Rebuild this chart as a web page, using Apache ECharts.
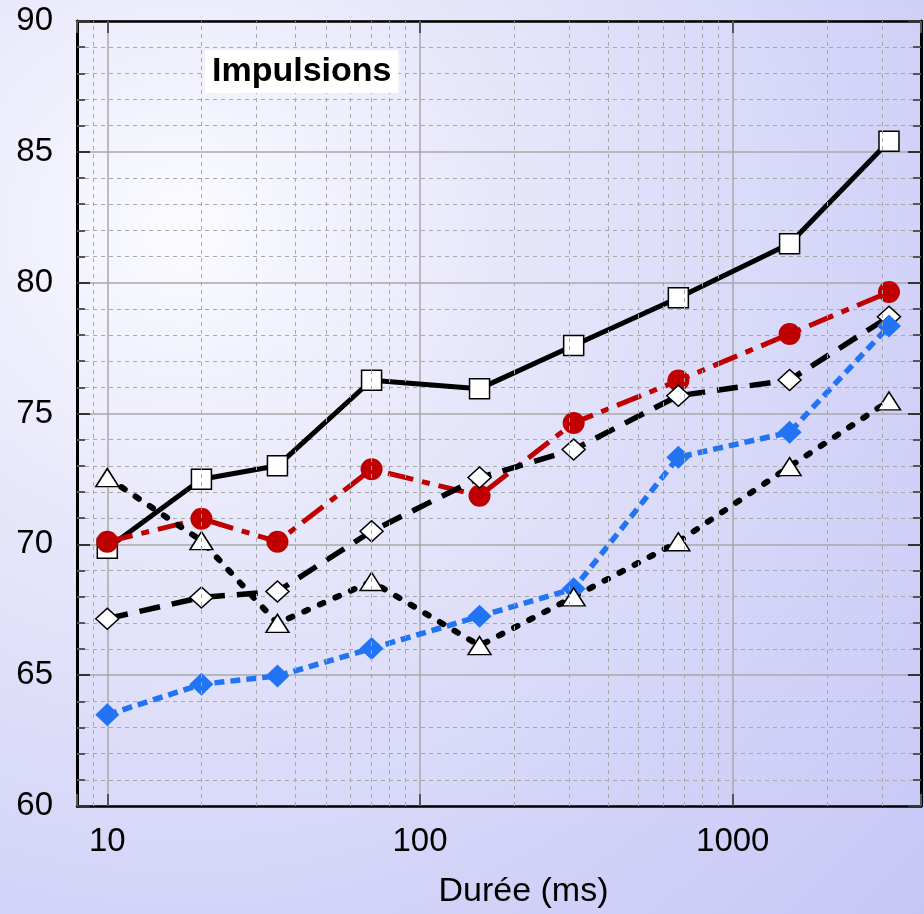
<!DOCTYPE html>
<html>
<head>
<meta charset="utf-8">
<script src="https://cdn.jsdelivr.net/npm/echarts@6/dist/echarts.min.js"></script>
<style>
html, body { margin: 0; padding: 0; width: 100%; height: 100%; overflow: hidden; }
#chart {
  position: absolute; left: 0; top: 0;
  width: 924px; height: 914px;
  background: radial-gradient(circle at 20% 25%, #fbfbff 0px, #e8e8fb 300px, #d3d3f8 700px, #c7c7f6 1000px);
}
</style>
</head>
<body>
<div id="chart"></div>
<script>
// ---- data ----
const xValues = [10, 20, 35, 70, 155, 310, 670, 1520, 3160];
const squaresData   = [69.85, 72.49, 73.0, 76.27, 75.95, 77.6, 79.42, 81.49, 85.4];
const circlesData   = [70.1, 70.98, 70.1, 72.87, 71.86, 74.64, 76.26, 78.04, 79.64];
const openDiamonds  = [67.16, 67.97, 68.2, 70.5, 72.55, 73.62, 75.68, 76.28, 78.7];
const blueDiamonds  = [63.49, 64.65, 64.97, 66.02, 67.25, 68.3, 73.33, 74.28, 78.34];
const trianglesData = [72.55, 70.14, 66.98, 68.58, 66.13, 67.99, 70.1, 72.97, 75.48];
const xTickLabels = [10, 100, 1000];
const xMinorGrid = [9, 20, 30, 40, 50, 60, 70, 80, 90, 200, 300, 400, 500, 600, 700, 800, 900, 2000, 3000];
const yTickLabels = [60, 65, 70, 75, 80, 85, 90];
const chartTitle = 'Impulsions';
const xAxisName = 'Durée (ms)';

const FONT = '"Liberation Sans", Arial, sans-serif';
const pts = arr => xValues.map((x, i) => [x, arr[i]]);

const chart = echarts.init(document.getElementById('chart'), null, { renderer: 'canvas', width: 924, height: 914 });

const baseSeries = (name, data, lineStyle, symbol, symbolSize, itemStyle) => ({
  name, type: 'line', data: pts(data), xAxisIndex: 0, yAxisIndex: 0,
  showSymbol: true, symbol, symbolSize, lineStyle, itemStyle,
  emphasis: { disabled: true }, z: 3
});

chart.setOption({
  animation: false,
  backgroundColor: 'transparent',
  textStyle: { fontFamily: FONT },
  title: {
    text: chartTitle, left: 205, top: 50,
    backgroundColor: '#ffffff', padding: [5, 7, 4, 7],
    textStyle: { fontFamily: FONT, fontWeight: 'bold', fontSize: 34, color: '#000' }
  },
  grid: { left: 77, right: 1, top: 21, bottom: 103, containLabel: false },
  xAxis: [
    {
      type: 'log', logBase: 10, min: 8, max: 4000, position: 'bottom',
      name: xAxisName, nameLocation: 'middle', nameGap: 69,
      nameTextStyle: { fontFamily: FONT, fontSize: 34, color: '#000', padding: [0, 0, 0, 49] },
      axisLine: { show: true, lineStyle: { color: '#000', width: 2.5 } },
      axisTick: { show: true, inside: true, length: 12, lineStyle: { color: '#555', width: 2 } },
      axisLabel: {
        fontFamily: FONT, fontSize: 33, color: '#000', margin: 19,
        showMinLabel: true, showMaxLabel: true,
        formatter: v => xTickLabels.includes(Math.round(v)) ? String(Math.round(v)) : ''
      },
      splitLine: { show: true, lineStyle: { color: '#a8a8a8', width: 1.5 } }
    },
    {
      type: 'log', logBase: 10, min: 8, max: 4000, position: 'top',
      axisLine: { show: true, lineStyle: { color: '#000', width: 2.5 } },
      axisTick: { show: true, inside: true, length: 12, lineStyle: { color: '#555', width: 2 } },
      axisLabel: { show: false },
      splitLine: { show: false }
    }
  ],
  yAxis: [
    {
      type: 'value', min: 60, max: 90, interval: 5, position: 'left',
      axisLine: { show: true, lineStyle: { color: '#000', width: 3 } },
      axisTick: { show: true, inside: true, length: 13, lineStyle: { color: '#333', width: 2 } },
      minorTick: { show: true, splitNumber: 5, length: 8, lineStyle: { color: '#555', width: 2 } },
      axisLabel: {
        fontFamily: FONT, fontSize: 33, color: '#000', margin: 24,
        formatter: v => yTickLabels.includes(v) ? String(v) : ''
      },
      splitLine: { show: true, lineStyle: { color: '#a8a8a8', width: 1.5 } },
      minorSplitLine: { show: true, lineStyle: { color: '#a8a8a8', width: 1, type: [4, 4] } }
    },
    {
      type: 'value', min: 60, max: 90, interval: 5, position: 'right',
      axisLine: { show: true, lineStyle: { color: '#000', width: 3 } },
      axisTick: { show: true, inside: true, length: 13, lineStyle: { color: '#333', width: 2 } },
      minorTick: { show: true, splitNumber: 5, length: 8, lineStyle: { color: '#555', width: 2 } },
      axisLabel: { show: false },
      splitLine: { show: false }
    }
  ],
  series: [
    {
      name: 'minor-grid', type: 'line', data: [], xAxisIndex: 0, yAxisIndex: 0, z: 1, silent: true,
      markLine: {
        silent: true, symbol: ['none', 'none'], animation: false,
        label: { show: false },
        lineStyle: { color: '#a8a8a8', width: 1, type: [4, 4] },
        emphasis: { disabled: true },
        data: xMinorGrid.map(v => ({ xAxis: v }))
      }
    },
    baseSeries('squares', squaresData,
      { color: '#000', width: 5, type: 'solid' },
      'rect', 20, { color: '#fff', borderColor: '#000', borderWidth: 1.5 }),
    baseSeries('circles', circlesData,
      { color: '#c00000', width: 5, type: [26, 9, 8, 9] },
      'circle', 22, { color: '#c00000', borderColor: '#c00000', borderWidth: 0 }),
    baseSeries('openDiamonds', openDiamonds,
      { color: '#000', width: 5.5, type: [21, 12] },
      'diamond', [23, 21], { color: '#fff', borderColor: '#000', borderWidth: 1.5 }),
    baseSeries('blueDiamonds', blueDiamonds,
      { color: '#2274f5', width: 5.5, type: [10, 6] },
      'diamond', [24, 23], { color: '#2274f5', borderColor: '#2274f5', borderWidth: 0 }),
    baseSeries('triangles', trianglesData,
      { color: '#000', width: 6, type: [4, 13], cap: 'round' },
      'triangle', [23, 18], { color: '#fff', borderColor: '#000', borderWidth: 1.5 })
  ]
});
</script>
</body>
</html>
